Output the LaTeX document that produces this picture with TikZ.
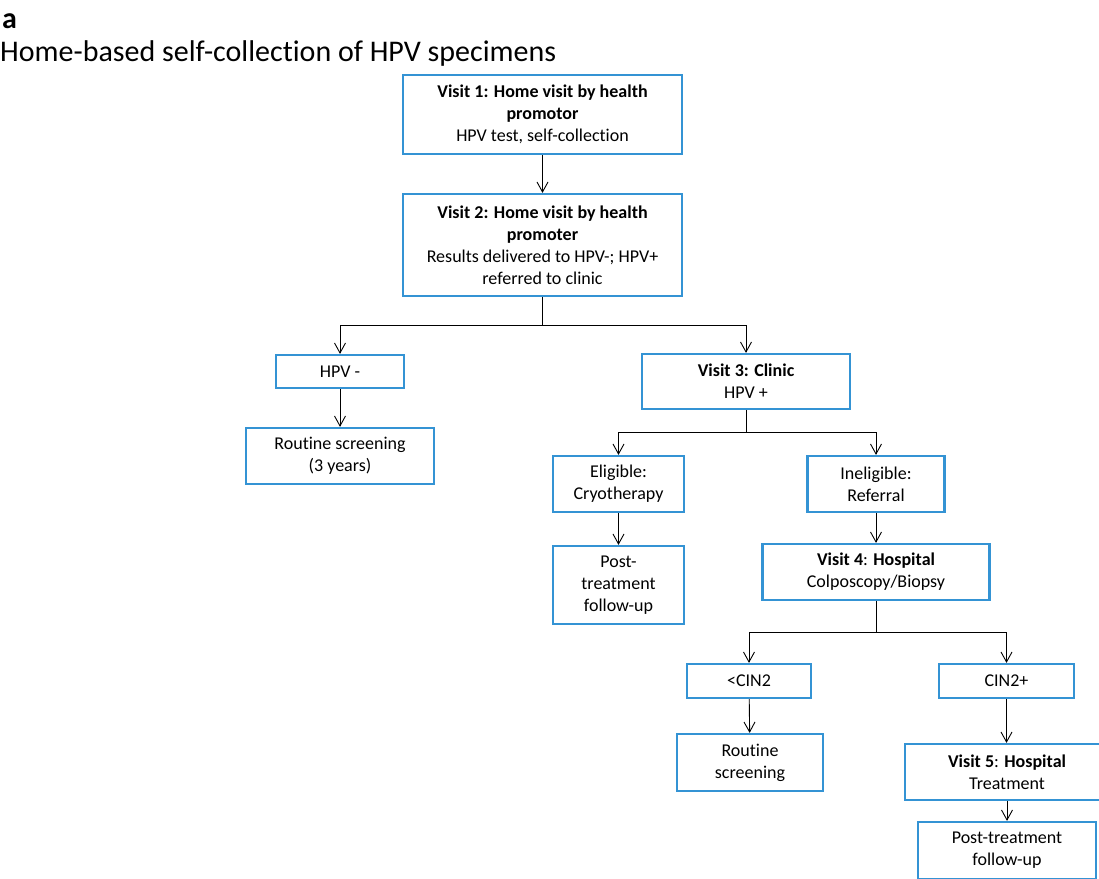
\documentclass[tikz,border=0pt]{standalone}
\usepackage{fontspec}
\setmainfont{Carlito}[Ligatures=NoCommon]
\usetikzlibrary{arrows.meta}
\definecolor{boxblue}{HTML}{3493D4}
\tikzset{
  box/.style={draw=boxblue, line width=2.2pt, align=center, inner sep=0pt,
    font=\fontsize{18}{22}\selectfont, text=black},
  arr/.style={-{Straight Barb[length=10pt,width=11pt]}, line width=0.9pt},
  ln/.style={line width=0.9pt}
}
\begin{document}
\begin{tikzpicture}[x=1pt,y=-1pt]
\useasboundingbox (0,0) rectangle (1099,878);
\node[anchor=base west, inner sep=0pt, font=\fontsize{30}{34}\selectfont\bfseries] (lbl) at (2,28) {a};
\node[anchor=base west, inner sep=0pt, font=\fontsize{30}{34}\selectfont] (title) at (0,61) {Home-based self-collection of HPV specimens};

\node[box, minimum width=279, minimum height=79] (v1) at (542.5,114.5)
  {\textbf{Visit 1: Home visit by health}\\\textbf{promotor}\\HPV test, self-collection};
\node[box, minimum width=279, minimum height=102] (v2) at (542.5,245)
  {\textbf{Visit 2: Home visit by health}\\\textbf{promoter}\\Results delivered to HPV-; HPV+\\referred to clinic};
\node[box, minimum width=128, minimum height=33] (hpvn) at (340,371.5) {HPV -};
\node[box, minimum width=188, minimum height=56] (rs1) at (340,456) {Routine screening\\(3 years)};
\node[box, minimum width=208, minimum height=55] (v3) at (746,381.5) {\textbf{Visit 3: Clinic}\\HPV +};
\node[box, minimum width=131, minimum height=56] (elig) at (618.5,484) {Eligible:\\Cryotherapy};
\node[box, minimum width=137, minimum height=56] (inel) at (876,484) {Ineligible:\\Referral};
\node[box, minimum width=131, minimum height=78] (post1) at (618.5,585) {Post-\\treatment\\follow-up};
\node[box, minimum width=227, minimum height=56] (v4) at (876,572) {\textbf{Visit 4}: \textbf{Hospital}\\Colposcopy/Biopsy};
\node[box, minimum width=124, minimum height=34] (cinl) at (749,681) {<CIN2};
\node[box, minimum width=135, minimum height=34] (cinp) at (1006.5,681) {CIN2+};
\node[box, minimum width=146, minimum height=57] (rs2) at (750,762.5) {Routine\\screening};
\node[box, minimum width=204, minimum height=56] (v5) at (1007,772) {\textbf{Visit 5}: \textbf{Hospital}\\Treatment};
\node[box, minimum width=178, minimum height=57] (post2) at (1007,850.5) {Post-treatment\\follow-up};

\coordinate (j1) at (542.5,325);
\coordinate (j2) at (746,432);
\coordinate (j3) at (876,632);

\draw[arr] (v1) -- (v2);
\draw[arr] (v2.south) |- (hpvn.north |- j1) -- (hpvn.north);
\draw[arr] (v2.south) |- (v3.north |- j1) -- (v3.north);
\draw[arr] (hpvn) -- (rs1);
\draw[arr] (v3.south) |- (elig.north |- j2) -- (elig.north);
\draw[arr] (v3.south) |- (inel.north |- j2) -- (inel.north);
\draw[arr] (elig) -- (post1);
\draw[arr] (inel) -- (v4);
\draw[arr] (v4.south) |- (cinl.north |- j3) -- (cinl.north);
\draw[arr] (v4.south) |- (cinp.north |- j3) -- (cinp.north);
\draw[arr] (cinl) -- (rs2);
\draw[arr] (cinp.south) -- (cinp.south |- v5.north);
\draw[arr] (v5.south) -- (v5.south |- post2.north);
\end{tikzpicture}
\end{document}
